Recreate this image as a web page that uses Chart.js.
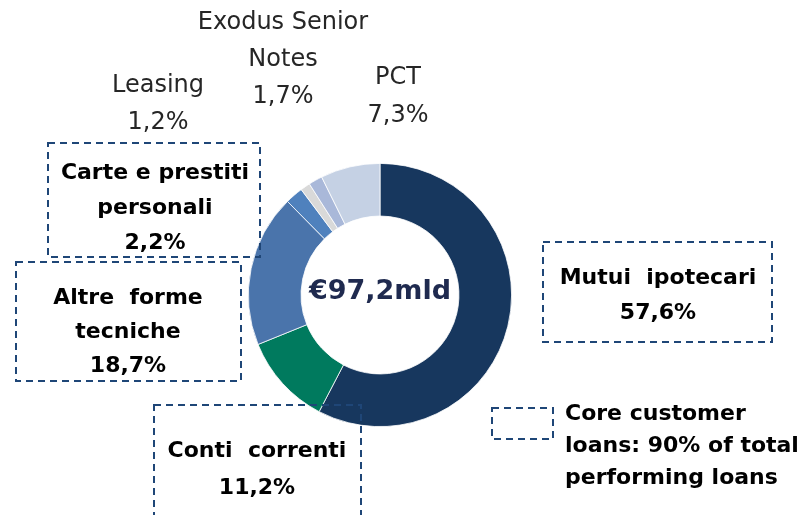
<!DOCTYPE html>
<html>
<head>
<meta charset="utf-8">
<script src="https://cdn.jsdelivr.net/npm/chart.js@4"></script>
<style>
  html, body { margin: 0; padding: 0; background: #fff; }
  #wrap { position: relative; width: 801px; height: 515px; }
</style>
</head>
<body>
<div id="wrap"><canvas id="loansChart"></canvas></div>
<script>
// loan book breakdown, clockwise from 12 o'clock
const categories = ['Mutui ipotecari', 'Conti correnti', 'Altre forme tecniche',
  'Carte e prestiti personali', 'Leasing', 'Exodus Senior Notes', 'PCT'];
const shares = [57.6, 11.2, 18.7, 2.2, 1.2, 1.7, 7.3];
const sliceColors = ['#17375E', '#007A5E', '#4A74AB', '#4F81BD', '#D9D9D9', '#A9B8D9', '#C5D1E4'];
const totalLabel = '€97,2mld';
const noteLines = ['Core customer', 'loans: 90% of total', 'performing loans'];

const pct = v => v.toFixed(1).replace('.', ',') + '%';

// where each category label goes: boxed ones get a dashed frame
const labelSpots = [
  { lines: ['Mutui  ipotecari'], x: 658, y: [278, 313], box: [543, 242, 229, 100] },
  { lines: ['Conti  correnti'], x: 257, y: [451, 488], box: [154, 405, 207, 120] },
  { lines: ['Altre  forme', 'tecniche'], x: 128, y: [298, 332, 366], box: [16, 262, 225, 119] },
  { lines: ['Carte e prestiti', 'personali'], x: 155, y: [173, 208, 243], box: [48, 143, 212, 114] },
  { lines: ['Leasing'], x: 158, y: [86, 123], thin: true },
  { lines: ['Exodus Senior', 'Notes'], x: 283, y: [23, 60, 97], thin: true },
  { lines: ['PCT'], x: 398, y: [78, 116], thin: true }
];

const dashed = (ctx, x, y, w, h) => {
  ctx.save();
  ctx.strokeStyle = '#1F4677';
  ctx.lineWidth = 2;
  ctx.setLineDash([7, 5]);
  ctx.strokeRect(x, y, w, h);
  ctx.restore();
};

const annotations = {
  id: 'annotations',
  afterDraw(chart) {
    const ctx = chart.ctx;
    const meta = chart.getDatasetMeta(0).data[0];
    ctx.save();
    ctx.textAlign = 'center';
    ctx.textBaseline = 'middle';

    // total in the hole
    ctx.fillStyle = '#1F2A4F';
    ctx.font = 'bold 27px "DejaVu Sans"';
    ctx.fillText(totalLabel, meta.x, meta.y - 3);

    labelSpots.forEach((s, i) => {
      if (s.box) dashed(ctx, ...s.box);
      const rows = s.lines.concat(pct(shares[i]));
      ctx.fillStyle = s.thin ? '#262626' : '#000';
      ctx.font = s.thin ? '24px "DejaVu Sans"' : 'bold 22px "DejaVu Sans"';
      rows.forEach((t, r) => ctx.fillText(t, s.x, s.y[r]));
    });

    // legend note
    dashed(ctx, 492, 408, 61, 31);
    ctx.textAlign = 'left';
    ctx.fillStyle = '#000';
    ctx.font = 'bold 22px "DejaVu Sans"';
    noteLines.forEach((t, r) => ctx.fillText(t, 565, 414 + r * 32));
    ctx.restore();
  }
};

new Chart(document.getElementById('loansChart'), {
  type: 'doughnut',
  data: {
    labels: categories,
    datasets: [{
      data: shares,
      backgroundColor: sliceColors,
      borderColor: '#fff',
      borderWidth: 0.8
    }]
  },
  options: {
    responsive: true,
    maintainAspectRatio: false,
    animation: false,
    cutout: '60%',
    layout: { padding: { top: 163, bottom: 88, left: 248, right: 289 } },
    plugins: { legend: { display: false }, tooltip: { enabled: false } }
  },
  plugins: [annotations]
});
</script>
</body>
</html>
